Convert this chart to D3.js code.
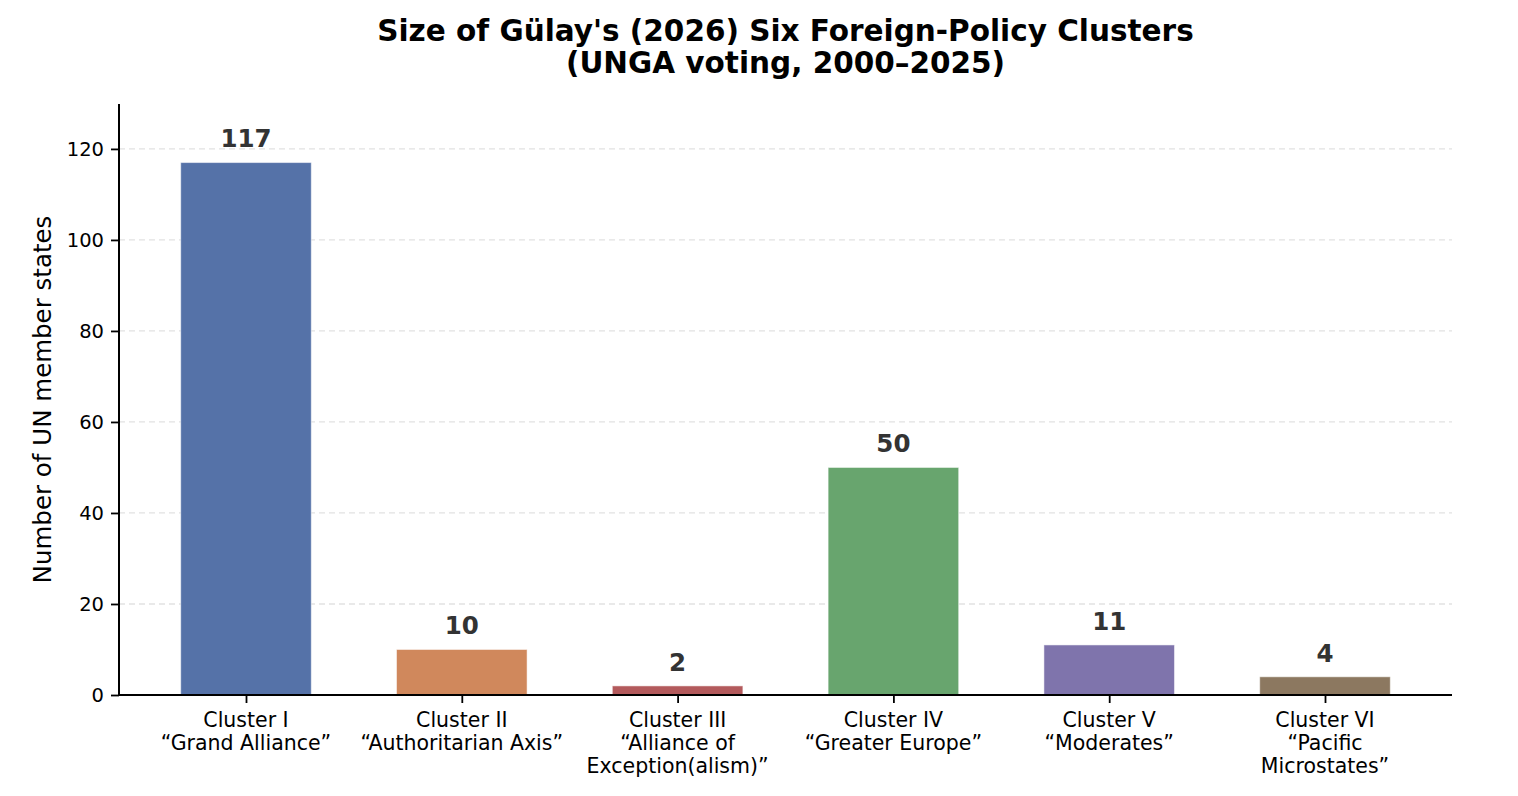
<!DOCTYPE html>
<html>
<head>
<meta charset="utf-8">
<script src="https://cdn.jsdelivr.net/npm/d3@7"></script>
<style>
  body { margin: 0; background: #fff; }
  svg text { font-family: "DejaVu Sans", sans-serif; }
</style>
</head>
<body>
<svg id="chart" width="1518" height="796"></svg>
<script>
"use strict";
const clusters = ["Cluster I", "Cluster II", "Cluster III", "Cluster IV", "Cluster V", "Cluster VI"];
const nicknames = [
    ["\u201cGrand Alliance\u201d"],
    ["\u201cAuthoritarian Axis\u201d"],
    ["\u201cAlliance of", "Exception(alism)\u201d"],
    ["\u201cGreater Europe\u201d"],
    ["\u201cModerates\u201d"],
    ["\u201cPacific", "Microstates\u201d"]
];
const counts = [117, 10, 2, 50, 11, 4];
// seaborn "deep" palette, desaturated as barplot does
const colors = ["#5572A8", "#D0885C", "#B35A5C", "#68A56E", "#7F74AC", "#8C7860"];
const yTicks = [0, 20, 40, 60, 80, 100, 120];

const margin = { left: 119, right: 1518 - 1452, top: 104, bottom: 796 - 695 };
const width = 1518 - margin.left - margin.right;
const height = 796 - margin.top - margin.bottom;

const svg = d3.select('#chart');
const g = svg.append('g').attr('transform', `translate(${margin.left},${margin.top})`);

// matplotlib-like x: bars at integer positions, width 0.6, small side margins
const x = d3.scaleLinear().domain([-0.5885, 5.5885]).range([0, width]);
const y = d3.scaleLinear().domain([0, 117 * 1.11]).range([height, 0]);
const barW = x(0.605) - x(0);

// grid
g.selectAll('.grid')
    .data(yTicks.slice(1))
    .enter()
    .append('line')
    .attr('x1', 0).attr('x2', width)
    .attr('y1', d => y(d)).attr('y2', d => y(d))
    .attr('stroke', '#e2e2e2')
    .attr('stroke-width', 1.3)
    .attr('stroke-dasharray', '6,4');

// bars
g.selectAll('.bar')
    .data(counts)
    .enter()
    .append('rect')
    .attr('x', (d, i) => x(i) - barW / 2)
    .attr('y', d => y(d))
    .attr('width', barW)
    .attr('height', d => height - y(d))
    .attr('fill', (d, i) => colors[i])
    .attr('stroke', '#fff')
    .attr('stroke-opacity', 0.5)
    .attr('stroke-width', 1);

// value labels
g.selectAll('.val')
    .data(counts)
    .enter()
    .append('text')
    .attr('x', (d, i) => x(i))
    .attr('y', d => y(d + 3) - 1.5)
    .attr('text-anchor', 'middle')
    .attr('font-size', 24.5)
    .attr('font-weight', 'bold')
    .attr('fill', '#333')
    .text(d => d);

// y axis
const yAxis = g.append('g')
    .call(d3.axisLeft(y).tickValues(yTicks).tickSize(8).tickPadding(7));
yAxis.select('.domain').attr('d', `M0,${height}V0`).attr('stroke', '#000').attr('stroke-width', 2);
yAxis.selectAll('.tick line').attr('stroke', '#000').attr('stroke-width', 1.8);
yAxis.selectAll('.tick text').attr('font-size', 19.5).attr('fill', '#000')
    .style('font-family', '"DejaVu Sans", sans-serif');

// x axis
const xAxis = g.append('g')
    .attr('transform', `translate(0,${height})`)
    .call(d3.axisBottom(x).tickValues(d3.range(clusters.length)).tickSize(8).tickFormat(''));
xAxis.select('.domain').attr('d', `M0,0H${width}`).attr('stroke', '#000').attr('stroke-width', 2);
xAxis.selectAll('.tick line').attr('stroke', '#000').attr('stroke-width', 1.8);

const catLabels = g.selectAll('.cat')
    .data(clusters)
    .enter()
    .append('text')
    .attr('x', (d, i) => x(i))
    .attr('y', height + 32)
    .attr('text-anchor', 'middle')
    .attr('font-size', 20.5)
    .attr('fill', '#000');
catLabels.each(function (d, i) {
    const lines = [d].concat(nicknames[i]);
    d3.select(this).selectAll('tspan')
        .data(lines)
        .enter()
        .append('tspan')
        .attr('x', x(i))
        .attr('dy', (l, j) => j === 0 ? 0 : 23)
        .text(l => l);
});

// y label
svg.append('text')
    .attr('transform', `translate(51,${margin.top + height / 2}) rotate(-90)`)
    .attr('text-anchor', 'middle')
    .attr('font-size', 24.5)
    .attr('fill', '#000')
    .text('Number of UN member states');

// title
const title = svg.append('text')
    .attr('x', margin.left + width / 2)
    .attr('y', 41)
    .attr('text-anchor', 'middle')
    .attr('font-size', 29.5)
    .attr('font-weight', 'bold')
    .attr('fill', '#000');
title.append('tspan').attr('x', margin.left + width / 2).text("Size of G\u00fclay's (2026) Six Foreign-Policy Clusters");
title.append('tspan').attr('x', margin.left + width / 2).attr('dy', 32).text('(UNGA voting, 2000\u20132025)');
</script>
</body>
</html>
